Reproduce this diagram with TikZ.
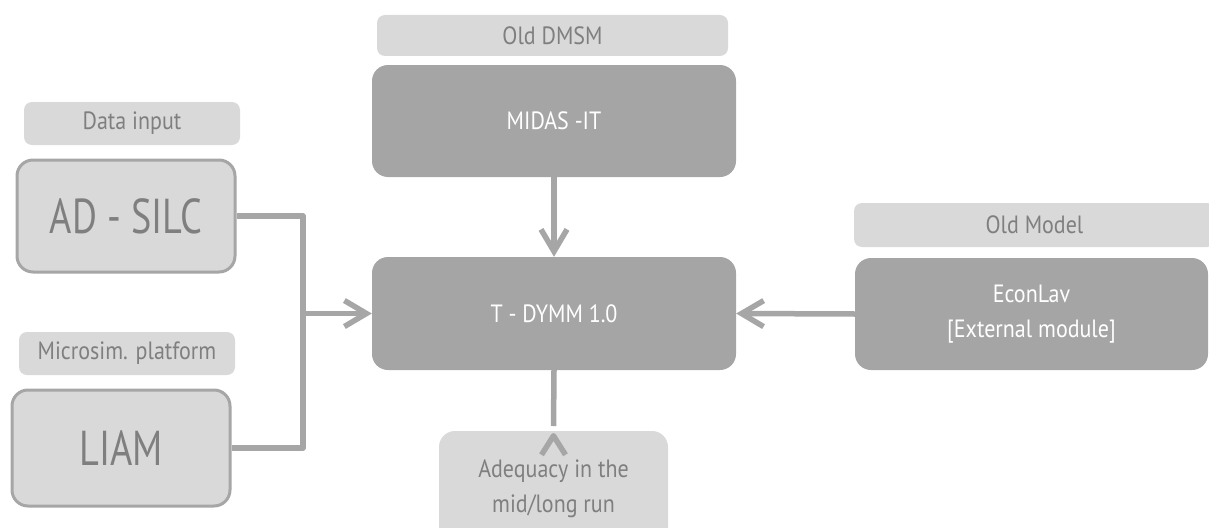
\documentclass[tikz,border=0pt]{standalone}
\usepackage{fontspec}
\setmainfont[FakeStretch=0.88]{PT Sans}
\newfontfamily\bigfont[FakeStretch=0.78]{PT Sans}
\usetikzlibrary{arrows.meta}
\definecolor{lightfill}{HTML}{D9D9D9}
\definecolor{darkfill}{HTML}{A5A5A5}
\definecolor{edge}{HTML}{A6A6A6}
\definecolor{txt}{HTML}{7F7F7F}
\tikzset{
  tag/.style={fill=lightfill, rounded corners=8pt, text=txt, inner sep=0pt,
    font=\fontsize{25}{30}\selectfont},
  srcbox/.style={fill=lightfill, draw=edge, line width=3pt, rounded corners=16pt,
    text=txt, inner sep=0pt, font=\bigfont\fontsize{49}{50}\selectfont},
  modbox/.style={fill=darkfill, rounded corners=16pt, text=white, inner sep=0pt,
    align=center, font=\fontsize{25}{35}\selectfont},
  outbox/.style={fill=lightfill, rounded corners=16pt, text=txt, inner sep=0pt,
    align=center, font=\fontsize{25}{35}\selectfont},
  conn/.style={draw=edge, line width=5.5pt, line join=round},
  tip/.style={-{Straight Barb[length=22pt,width=26pt]}}
}
\begin{document}
\begin{tikzpicture}[x=1pt,y=-1pt]
\useasboundingbox (0,0) rectangle (1209,527);
% labels
\node[tag, minimum width=216pt, minimum height=43pt] (datainput) at (132,123.5) {Data input};
\node[tag, minimum width=216pt, minimum height=43pt] (microsim) at (127,353.5) {Microsim. platform};
\node[tag, minimum width=351pt, minimum height=41pt] (olddmsm) at (552.5,35.5) {Old DMSM};
\node[tag, minimum width=361pt, minimum height=44pt] (oldmodel) at (1034.5,225) {Old Model};
% source boxes
\node[srcbox, minimum width=218pt, minimum height=112pt] (adsilc) at (126,216) {AD - SILC};
\node[srcbox, minimum width=218pt, minimum height=116pt] (liam) at (121,448) {LIAM};
% model boxes
\node[modbox, minimum width=364pt, minimum height=112pt] (midas) at (554,121) {MIDAS -IT};
\node[modbox, minimum width=364pt, minimum height=113pt] (tdymm) at (554,313.5) {T - DYMM 1.0};
\node[modbox, minimum width=353pt, minimum height=112pt] (econlav) at (1031.5,314) {EconLav\\{}[External module]};
% output
\node[outbox, minimum width=229pt, minimum height=116pt] (adequacy) at (553.5,489) {Adequacy in the\\mid/long run};
% connectors
\coordinate (j) at (303,313.5);
\coordinate (jb) at (553.5,426);
\draw[conn] (adsilc.east) -| (j) |- (liam.east);
\draw[conn, tip] (j) -- (tdymm.west);
\draw[conn, tip] (midas.south) -- (tdymm.north);
\draw[conn, tip] (econlav.west) -- (tdymm.east);
\draw[conn] (tdymm.south) -- (jb);
\draw[conn] ([xshift=-12pt,yshift=-24pt]adequacy.north) -- ([yshift=-5pt]adequacy.north) -- ([xshift=12pt,yshift=-24pt]adequacy.north);
\end{tikzpicture}
\end{document}
